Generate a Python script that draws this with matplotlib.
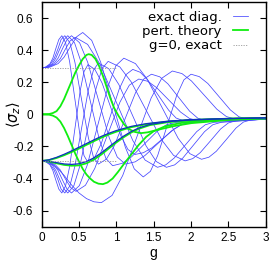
import matplotlib
matplotlib.use('Agg')
import matplotlib.pyplot as plt

# exact diagonalisation, curves starting at +0.29 (g, <sigma_z>)
exact_a1 = [(0, 0.29), (0.05, 0.294), (0.11, 0.314), (0.15, 0.35), (0.19, 0.41), (0.23, 0.466), (0.27, 0.49),
            (0.32, 0.447), (0.375, 0.327), (0.445, 0.095), (0.515, -0.137), (0.567, -0.257), (0.62, -0.30),
            (0.71, -0.268), (0.80, -0.18), (0.92, -0.01), (1.04, 0.16), (1.13, 0.248), (1.22, 0.28),
            (1.32, 0.262), (1.42, 0.214), (1.56, 0.12), (1.70, 0.026), (1.80, -0.023), (1.9, -0.04),
            (2.4, -0.035), (3.0, -0.03)]
exact_a2 = [(0, 0.29), (0.06, 0.294), (0.12, 0.314), (0.17, 0.35), (0.22, 0.41), (0.26, 0.466), (0.31, 0.49),
            (0.378, 0.446), (0.445, 0.325), (0.535, 0.09), (0.625, -0.145), (0.693, -0.266), (0.76, -0.31),
            (0.867, -0.279), (0.973, -0.195), (1.115, -0.03), (1.257, 0.135), (1.364, 0.219), (1.47, 0.25),
            (1.58, 0.234), (1.69, 0.19), (1.835, 0.105), (1.98, 0.02), (2.09, -0.024), (2.2, -0.04),
            (2.6, -0.033), (3.0, -0.03)]
exact_a3 = [(0, 0.29), (0.07, 0.294), (0.14, 0.314), (0.19, 0.35), (0.245, 0.41), (0.30, 0.466), (0.35, 0.49),
            (0.44, 0.446), (0.53, 0.323), (0.65, 0.085), (0.77, -0.153), (0.86, -0.275), (0.95, -0.32),
            (1.08, -0.305), (1.205, -0.264), (1.375, -0.185), (1.545, -0.106), (1.67, -0.065), (1.8, -0.05),
            (2.3, -0.038), (3.0, -0.03)]
exact_a4 = [(0, 0.29), (0.08, 0.294), (0.16, 0.314), (0.22, 0.35), (0.28, 0.41), (0.34, 0.466), (0.40, 0.49),
            (0.508, 0.446), (0.616, 0.325), (0.76, 0.09), (0.904, -0.145), (1.012, -0.266), (1.12, -0.31),
            (1.252, -0.296), (1.384, -0.256), (1.56, -0.18), (1.736, -0.104), (1.868, -0.064), (2.0, -0.05),
            (2.5, -0.036), (3.0, -0.03)]
exact_a5 = [(0, 0.29), (0.09, 0.294), (0.18, 0.313), (0.25, 0.347), (0.315, 0.404), (0.38, 0.457), (0.45, 0.48),
            (0.615, 0.436), (0.78, 0.313), (1.0, 0.075), (1.22, -0.163), (1.385, -0.285), (1.55, -0.33),
            (1.66, -0.315), (1.775, -0.272), (1.925, -0.19), (2.075, -0.108), (2.19, -0.065), (2.3, -0.05),
            (3.0, -0.03)]
exact_a6 = [(0, 0.29), (0.11, 0.294), (0.22, 0.316), (0.30, 0.356), (0.385, 0.422), (0.47, 0.484), (0.55, 0.51),
            (0.67, 0.461), (0.79, 0.325), (0.955, 0.06), (1.12, -0.205), (1.24, -0.34), (1.36, -0.39),
            (1.456, -0.355), (1.552, -0.258), (1.68, -0.07), (1.808, 0.118), (1.904, 0.215), (2.0, 0.25),
            (2.11, 0.235), (2.225, 0.192), (2.375, 0.11), (2.525, 0.028), (2.64, -0.015), (2.75, -0.03),
            (3.0, -0.03)]

# exact diagonalisation, curves starting at -0.29
exact_b1 = [(0, -0.29), (0.05, -0.294), (0.11, -0.314), (0.15, -0.35), (0.19, -0.41), (0.23, -0.466), (0.27, -0.49),
            (0.32, -0.446), (0.375, -0.325), (0.445, -0.09), (0.515, 0.145), (0.567, 0.266), (0.62, 0.31),
            (0.714, 0.279), (0.809, 0.195), (0.935, 0.03), (1.061, -0.135), (1.155, -0.219), (1.25, -0.25),
            (1.362, -0.239), (1.475, -0.209), (1.625, -0.15), (1.775, -0.091), (1.888, -0.061), (2.0, -0.05),
            (2.5, -0.036), (3.0, -0.03)]
exact_b2 = [(0, -0.29), (0.06, -0.294), (0.12, -0.314), (0.17, -0.35), (0.22, -0.41), (0.26, -0.466), (0.31, -0.49),
            (0.378, -0.446), (0.445, -0.323), (0.535, -0.085), (0.625, 0.153), (0.693, 0.275), (0.76, 0.32),
            (0.897, 0.285), (1.033, 0.186), (1.215, -0.005), (1.397, -0.196), (1.534, -0.294), (1.67, -0.33),
            (1.78, -0.315), (1.89, -0.272), (2.035, -0.19), (2.18, -0.108), (2.29, -0.065), (2.4, -0.05),
            (3.0, -0.03)]
exact_b3 = [(0, -0.29), (0.07, -0.294), (0.14, -0.314), (0.19, -0.35), (0.245, -0.41), (0.30, -0.466), (0.35, -0.49),
            (0.431, -0.445), (0.512, -0.321), (0.62, -0.08), (0.728, 0.161), (0.809, 0.285), (0.89, 0.33),
            (1.045, 0.296), (1.199, 0.202), (1.405, 0.02), (1.611, -0.162), (1.766, -0.256), (1.92, -0.29),
            (2.022, -0.276), (2.124, -0.238), (2.26, -0.165), (2.396, -0.091), (2.498, -0.054), (2.6, -0.04),
            (3.0, -0.03)]
exact_b4 = [(0, -0.29), (0.08, -0.294), (0.16, -0.314), (0.22, -0.35), (0.28, -0.41), (0.34, -0.466), (0.40, -0.49),
            (0.505, -0.444), (0.61, -0.317), (0.75, -0.07), (0.89, 0.177), (0.995, 0.304), (1.1, 0.35),
            (1.256, 0.316), (1.412, 0.22), (1.62, 0.035), (1.828, -0.15), (1.984, -0.245), (2.14, -0.28),
            (2.239, -0.267), (2.338, -0.23), (2.47, -0.158), (2.602, -0.085), (2.701, -0.048), (2.8, -0.035),
            (3.0, -0.03)]
exact_b5 = [(0, -0.29), (0.09, -0.294), (0.18, -0.313), (0.25, -0.347), (0.32, -0.404), (0.39, -0.457), (0.46, -0.48),
            (0.586, -0.442), (0.712, -0.336), (0.88, -0.13), (1.048, 0.076), (1.174, 0.182), (1.3, 0.22),
            (1.42, 0.206), (1.54, 0.166), (1.7, 0.09), (1.86, 0.014), (1.98, -0.026), (2.1, -0.04),
            (3.0, -0.03)]
exact_b6 = [(0, -0.29), (0.1, -0.30), (0.2, -0.33), (0.3, -0.38), (0.4, -0.44), (0.5, -0.49), (0.6, -0.525),
            (0.7, -0.545), (0.8, -0.55), (0.943, -0.505), (1.085, -0.381), (1.275, -0.14), (1.465, 0.101),
            (1.608, 0.225), (1.75, 0.27), (1.878, 0.254), (2.005, 0.208), (2.175, 0.12), (2.345, 0.032),
            (2.473, -0.014), (2.6, -0.03), (3.0, -0.03)]

# exact curves that lie on top of the perturbative ones
exact_c1 = [(0, -0.29), (0.1, -0.283), (0.2, -0.268), (0.3, -0.249), (0.4, -0.228), (0.5, -0.205), (0.6, -0.182),
            (0.7, -0.159), (0.8, -0.137), (0.9, -0.118), (1.0, -0.101), (1.2, -0.075), (1.4, -0.058),
            (1.7, -0.042), (2.0, -0.033), (2.5, -0.026), (3.0, -0.022)]
exact_c2 = [(0, -0.29), (0.1, -0.293), (0.2, -0.301), (0.3, -0.309), (0.4, -0.312), (0.5, -0.308), (0.6, -0.294),
            (0.7, -0.271), (0.8, -0.24), (0.9, -0.203), (1.0, -0.167), (1.1, -0.135), (1.2, -0.107),
            (1.3, -0.085), (1.45, -0.063), (1.7, -0.045), (2.0, -0.035), (2.5, -0.027), (3.0, -0.022)]

# perturbation theory
pert_1 = [(0, 0), (0.1, 0.002), (0.15, 0.008), (0.2, 0.02), (0.25, 0.05), (0.3, 0.095), (0.35, 0.15), (0.4, 0.205),
          (0.45, 0.26), (0.5, 0.305), (0.55, 0.345), (0.6, 0.37), (0.63, 0.375), (0.67, 0.37), (0.72, 0.345),
          (0.77, 0.3), (0.82, 0.24), (0.87, 0.17), (0.92, 0.1), (0.97, 0.04), (1.03, -0.01), (1.1, -0.06),
          (1.16, -0.09), (1.25, -0.11), (1.33, -0.117), (1.42, -0.112), (1.55, -0.097), (1.75, -0.075),
          (2.0, -0.055), (2.5, -0.035), (3.0, -0.025)]
pert_2 = [(0, 0), (0.1, -0.002), (0.15, -0.008), (0.2, -0.02), (0.25, -0.045), (0.3, -0.085), (0.35, -0.135),
          (0.4, -0.19), (0.45, -0.245), (0.5, -0.295), (0.55, -0.34), (0.6, -0.375), (0.65, -0.4), (0.7, -0.42),
          (0.76, -0.432), (0.82, -0.435), (0.88, -0.425), (0.95, -0.4), (1.02, -0.36), (1.1, -0.31), (1.2, -0.25),
          (1.3, -0.19), (1.4, -0.14), (1.5, -0.105), (1.65, -0.075), (1.85, -0.055), (2.1, -0.04), (2.5, -0.03),
          (3.0, -0.025)]
pert_3 = [(0, -0.29), (0.1, -0.285), (0.2, -0.272), (0.3, -0.255), (0.4, -0.235), (0.5, -0.213), (0.6, -0.19),
          (0.7, -0.167), (0.8, -0.145), (0.9, -0.125), (1.0, -0.108), (1.2, -0.08), (1.4, -0.062), (1.7, -0.045),
          (2.0, -0.035), (2.5, -0.027), (3.0, -0.022)]
pert_4 = [(0, -0.29), (0.1, -0.295), (0.2, -0.305), (0.3, -0.315), (0.4, -0.32), (0.5, -0.318), (0.6, -0.305),
          (0.7, -0.282), (0.8, -0.25), (0.9, -0.212), (1.0, -0.175), (1.1, -0.142), (1.2, -0.113), (1.3, -0.09),
          (1.45, -0.067), (1.7, -0.048), (2.0, -0.037), (2.5, -0.028), (3.0, -0.022)]

# g=0 exact values
g0_range = [0, 1.0]
g0_levels = [0.29, -0.29]

xticks = [0, 0.5, 1, 1.5, 2, 2.5, 3]
xlabels = ['0', '0.5', '1', '1.5', '2', '2.5', '3']
yticks = [-0.6, -0.4, -0.2, 0, 0.2, 0.4, 0.6]
ylabels = ['-0.6', '-0.4', '-0.2', '0', '0.2', '0.4', '0.6']

plt.rcParams['font.family'] = ['Liberation Sans', 'DejaVu Sans']
plt.rcParams['mathtext.fontset'] = 'dejavusans'

fig = plt.figure(figsize=(2.74, 2.67), dpi=100)
ax = fig.add_axes([0.152, 0.151, 0.818, 0.8415])

blue = '#4646ff'
exact = [exact_a1, exact_a2, exact_a3, exact_a4, exact_a5, exact_a6,
         exact_b1, exact_b2, exact_b3, exact_b4, exact_b5, exact_b6]
for i, curve in enumerate(exact):
    g, s = zip(*curve)
    ax.plot(g, s, color=blue, lw=0.55, label='exact diag.' if i == 0 else '_nolegend_')

for i, curve in enumerate([pert_1, pert_2, pert_3, pert_4]):
    g, s = zip(*curve)
    ax.plot(g, s, color='#10ee10', lw=1.3, label='pert. theory' if i == 0 else '_nolegend_')

for curve in [exact_c1, exact_c2]:
    g, s = zip(*curve)
    ax.plot(g, s, color='#1030c0', lw=0.9)

for i, level in enumerate(g0_levels):
    ax.plot(g0_range, [level, level], color='#999999', lw=0.6, ls=(0, (1.5, 1.5)),
            label='g=0, exact' if i == 0 else '_nolegend_')

ax.set_xlim(0, 3)
ax.set_ylim(-0.7, 0.7)
ax.set_xticks(xticks)
ax.set_xticklabels(xlabels)
ax.set_yticks(yticks)
ax.set_yticklabels(ylabels)
ax.tick_params(direction='in', top=True, right=True, length=4, width=0.8, labelsize=8.5)
ax.tick_params(axis='x', pad=3.5)
ax.tick_params(axis='y', pad=6)
for sp in ax.spines.values():
    sp.set_linewidth(1.0)

ax.set_xlabel('g', fontsize=10, labelpad=2)
ax.set_ylabel(r'$\langle\sigma_z\rangle$', fontsize=10.5)
ax.yaxis.set_label_coords(-0.085, 0.5)

ax.legend(loc='upper right', bbox_to_anchor=(0.945, 0.985), frameon=False, markerfirst=False,
          prop={'family': 'DejaVu Sans', 'size': 9.5},
          handlelength=1.15, handletextpad=0.85, labelspacing=0.1, borderaxespad=0.0)

plt.savefig('out.png', dpi=100)
